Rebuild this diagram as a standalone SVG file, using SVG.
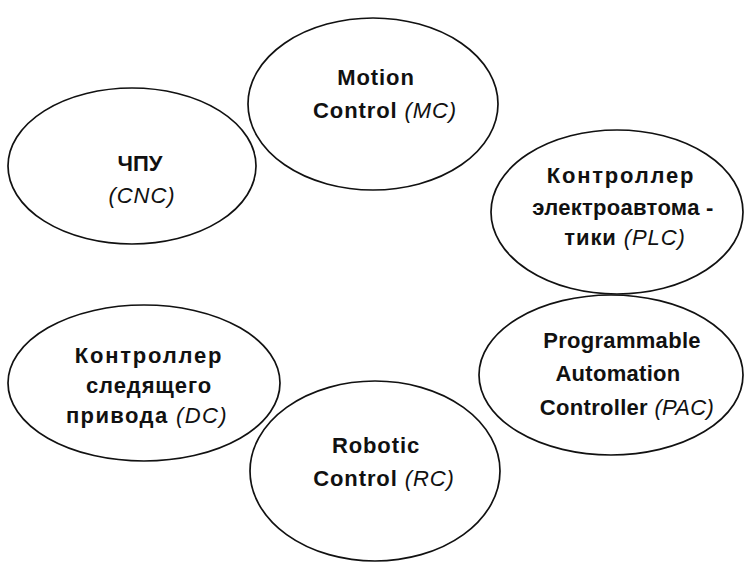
<svg xmlns="http://www.w3.org/2000/svg" width="745" height="568" viewBox="0 0 745 568">
<style>
.n{fill:none;stroke:#111;stroke-width:1.7}
.t{font-family:"Liberation Sans",Arial,sans-serif;font-size:22px;font-weight:bold;fill:#111;text-anchor:middle;letter-spacing:0.9px}
.i{font-weight:normal;font-style:italic}
</style>
<rect width="745" height="568" fill="#fff"/>
<g id="mc">
<ellipse class="n" cx="373" cy="104" rx="125" ry="86"/>
<text class="t" x="376" y="85">Motion</text>
<text class="t" x="385" y="118">Control <tspan class="i">(MC)</tspan></text>
</g>
<g id="cnc">
<ellipse class="n" cx="132" cy="166" rx="124" ry="78"/>
<text class="t" x="140" y="171" style="letter-spacing:0">ЧПУ</text>
<text class="t i" x="142" y="203">(CNC)</text>
</g>
<g id="plc">
<ellipse class="n" cx="617" cy="212" rx="126" ry="82"/>
<text class="t" x="621" y="183" style="letter-spacing:1.8px">Контроллер</text>
<text class="t" x="623" y="215" style="letter-spacing:0.3px">электроавтома -</text>
<text class="t" x="625" y="245">тики <tspan class="i">(PLC)</tspan></text>
</g>
<g id="dc">
<ellipse class="n" cx="144" cy="383" rx="136" ry="78"/>
<text class="t" x="149" y="363" style="letter-spacing:1.8px">Контроллер</text>
<text class="t" x="149" y="393">следящего</text>
<text class="t" x="147" y="423" style="letter-spacing:1.4px">привода <tspan class="i">(DC)</tspan></text>
</g>
<g id="pac">
<ellipse class="n" cx="611" cy="375" rx="132" ry="80"/>
<text class="t" x="622" y="348" style="letter-spacing:0.3px">Programmable</text>
<text class="t" x="618" y="381" style="letter-spacing:0.3px">Automation</text>
<text class="t" x="627" y="415" style="letter-spacing:0.3px">Controller <tspan class="i">(PAC)</tspan></text>
</g>
<g id="rc">
<ellipse class="n" cx="375" cy="471" rx="125" ry="90"/>
<text class="t" x="376" y="453">Robotic</text>
<text class="t" x="384" y="486">Control <tspan class="i">(RC)</tspan></text>
</g>
<g id="connectors"/>
</svg>
